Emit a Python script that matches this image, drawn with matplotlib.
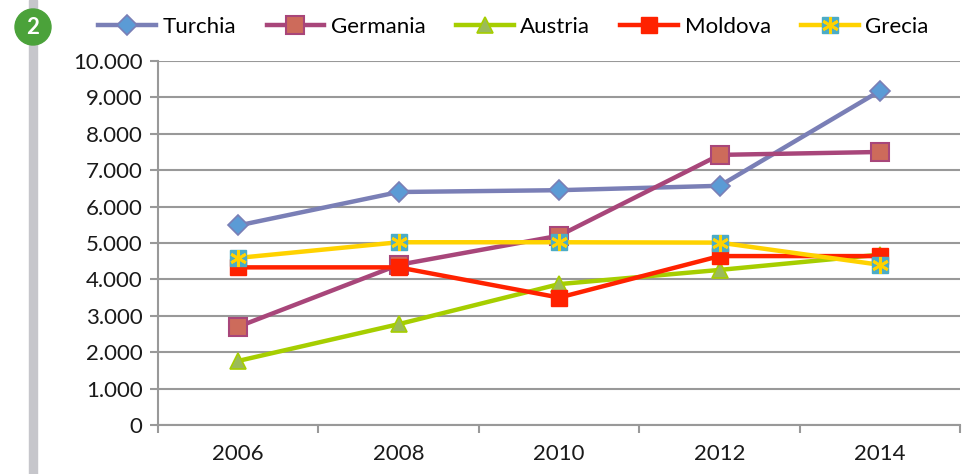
import matplotlib
matplotlib.use("Agg")
from matplotlib import pyplot as plt
from matplotlib.patches import Rectangle, Circle

# Data
years = ['2006', '2008', '2010', '2012', '2014']
turchia = [5480, 6400, 6450, 6570, 9180]
germania = [2700, 4400, 5200, 7420, 7500]
austria = [1760, 2770, 3870, 4260, 4680]
moldova = [4330, 4330, 3500, 4640, 4640]
grecia = [4590, 5020, 5020, 5010, 4400]
yticks = [0, 1000, 2000, 3000, 4000, 5000, 6000, 7000, 8000, 9000, 10000]

plt.rcParams['font.family'] = ['Lato', 'DejaVu Sans']

fig = plt.figure(figsize=(9.75, 4.74), dpi=100)
ax = fig.add_axes([0.162, 0.1034, 0.823, 0.768])
x = range(len(years))

lw = 3.2
h1, = ax.plot(x, turchia, color='#7A7FB6', lw=lw, marker='D', ms=10,
              mfc='#5B9BD5', mec='#7A7FB6', mew=1.2, label='Turchia', zorder=3)
h2, = ax.plot(x, germania, color='#A8467A', lw=lw, marker='s', ms=13,
              mfc='#CD6B5B', mec='#A8467A', mew=1.5, label='Germania', zorder=3)
h3, = ax.plot(x, austria, color='#A6CE00', lw=lw, marker='^', ms=12,
              mfc='#9BBB59', mec='#A6CE00', mew=1.2, label='Austria', zorder=3)
h4, = ax.plot(x, moldova, color='#FF2200', lw=lw, marker='s', ms=12,
              mfc='#FF2200', mec='#FF2200', label='Moldova', zorder=3)
h5, = ax.plot(x, grecia, color='#FFD200', lw=lw, marker='s', ms=12,
              mfc='#4BACC6', mec='#4BACC6', label='Grecia', zorder=3)
h5b, = ax.plot(x, grecia, ls='none', marker=(6, 2, 0), ms=12,
               mec='#FFD200', mew=2, zorder=4)

ax.set_xlim(-0.5, 4.5)
ax.set_ylim(0, 10000)
ax.set_yticks(yticks)
ax.set_yticklabels([f"{v:,}".replace(',', '.') for v in yticks])
ax.set_xticks(list(x))
ax.set_xticklabels(years)
ax.set_xticks([i - 0.5 for i in range(len(years) + 1)], minor=True)
ax.tick_params(axis='x', which='major', length=0, pad=14, labelsize=16, colors='#1a1a1a')
ax.tick_params(axis='x', which='minor', length=6, width=1.5, color='#999999')
ax.tick_params(axis='y', length=6, width=1.5, color='#999999', labelsize=16,
               labelcolor='#1a1a1a', pad=5)
ax.grid(axis='y', color='#999999', lw=1.5)
ax.set_axisbelow(True)
for s in ['top', 'right']:
    ax.spines[s].set_visible(False)
for s in ['left', 'bottom']:
    ax.spines[s].set_color('#999999')
    ax.spines[s].set_linewidth(1.5)

fig.legend([h1, h2, h3, h4, (h5, h5b)], ['Turchia', 'Germania', 'Austria', 'Moldova', 'Grecia'],
           loc='center left', bbox_to_anchor=(0.101, 1 - 27 / 474), ncol=5, frameon=False,
           fontsize=16, handlelength=2.6, columnspacing=1.35, handletextpad=0.3,
           borderaxespad=0.0, borderpad=0.0)

# gray side bar and green badge
fig.patches.append(Rectangle((0.030, 0), 0.008, 1.0, transform=fig.transFigure,
                             color='#C6C6CB', zorder=0))
fig.patches.append(Circle((33, 474 - 27), 18, transform=None, color='#4BA23A', zorder=1))
fig.text(33 / 975, 1 - 27 / 474, '2', color='white', fontsize=16, fontweight='bold',
         ha='center', va='center')

fig.savefig('out.png', dpi=100)
